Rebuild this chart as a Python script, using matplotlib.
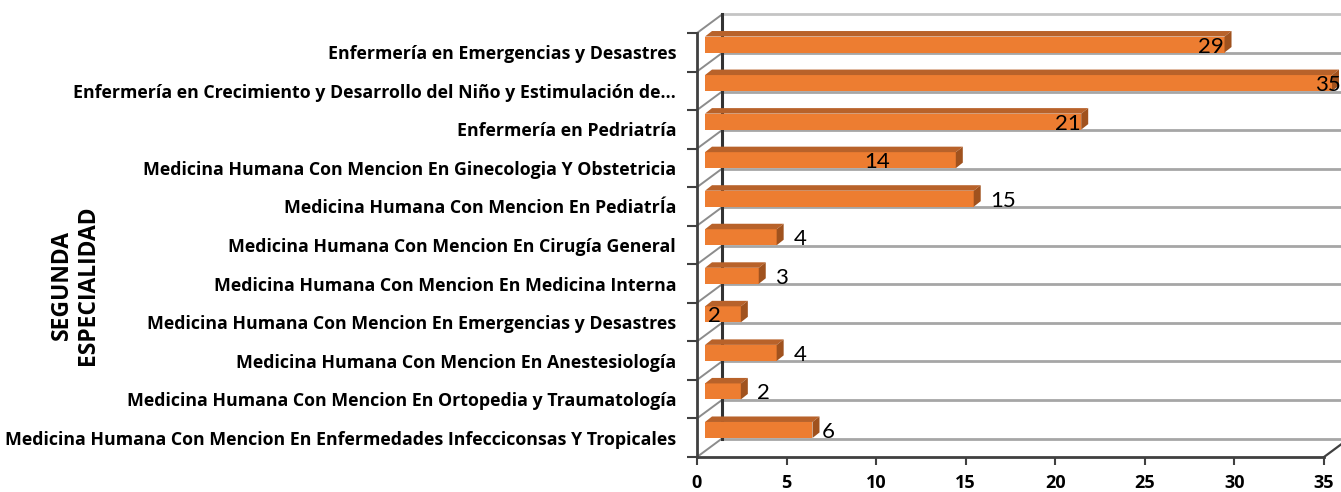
import matplotlib.pyplot as plt
import numpy as np

categories = [
    "Enfermería en Emergencias y Desastres",
    "Enfermería en Crecimiento y Desarrollo del Niño y Estimulación de…",
    "Enfermería en Pedriatría",
    "Medicina Humana Con Mencion En Ginecologia Y Obstetricia",
    "Medicina Humana Con Mencion En PediatrÍa",
    "Medicina Humana Con Mencion En Cirugía General",
    "Medicina Humana Con Mencion En Medicina Interna",
    "Medicina Humana Con Mencion En Emergencias y Desastres",
    "Medicina Humana Con Mencion En Anestesiología",
    "Medicina Humana Con Mencion En Ortopedia y Traumatología",
    "Medicina Humana Con Mencion En Enfermedades Infecciconsas Y Tropicales",
]
values = [29, 35, 21, 14, 15, 4, 3, 2, 4, 2, 6]
x_ticks = [0, 5, 10, 15, 20, 25, 30, 35]
axis_title = "SEGUNDA\nESPECIALIDAD"

# where Excel dropped each data label (x, in axis units)
label_x = [28.7, 35.2, 20.7, 10.05, 17.1, 5.75, 4.7, 0.95, 5.75, 3.7, 7.3]

plt.rcParams['font.family'] = ['Open Sans', 'DejaVu Sans']

W, H = 1341, 492
fig = plt.figure(figsize=(W / 100, H / 100), dpi=100)
ax = fig.add_axes([697 / W, 35 / H, 627 / W, 424 / H])

n = len(categories)
y = np.arange(n)
edges = np.arange(n + 1) - 0.5
xmax = x_ticks[-1]
ax.set_xlim(0, xmax)
ax.set_ylim(n - 0.5, -0.5)

# pixel -> data unit helpers (y axis is inverted, so "up" is negative)
sx = ax.bbox.width / xmax
sy = ax.bbox.height / n
def off(px, py):
    return px / sx, -py / sy

# fake 3D: back wall, side wall diagonals
bx, by = off(25, 18.5)
for i, e in enumerate(edges):
    c = '#c4c4c4' if i == 0 else '#a6a6a6'
    ax.plot([bx, xmax + bx], [e + by, e + by], color=c, lw=2, clip_on=False, zorder=1)
    ax.plot([0, bx], [e, e + by], color='#8c8c8c', lw=1.4, clip_on=False, zorder=1)
ax.plot([bx, bx], [edges[0] + by, edges[-1] + by], color='#333333', lw=2.2, clip_on=False, zorder=1)
ax.plot([xmax, xmax + bx], [edges[-1], edges[-1] + by], color='#404040', lw=1.6, clip_on=False, zorder=1)

# bars: front face + top + side
h = 16 / sy
fx, fy = off(8, 7.75)
dx, dy = off(7, 5.5)
ax.barh(y + fy, values, left=fx, height=h, color='#ED7D31', clip_on=False, zorder=3)
for yi, v in zip(y, values):
    yt = yi + fy - h / 2
    yb = yi + fy + h / 2
    x0, x1 = fx, fx + v
    ax.fill([x0, x1, x1 + dx, x0 + dx], [yt, yt, yt + dy, yt + dy],
            color='#B8622A', clip_on=False, zorder=3, lw=0)
    ax.fill([x1, x1, x1 + dx, x1 + dx], [yt, yb, yb + dy, yt + dy],
            color='#A0521E', clip_on=False, zorder=3, lw=0)

_, ly = off(0, -2)
for yi, v, lx in zip(y, values, label_x):
    ax.text(lx, yi + fy + ly, str(v), ha='center', va='center', fontsize=16,
            family=['Lato', 'DejaVu Sans'], color='black', zorder=5, clip_on=False)

for s in ['top', 'right']:
    ax.spines[s].set_visible(False)
for s in ['left', 'bottom']:
    ax.spines[s].set_color('#404040')
    ax.spines[s].set_linewidth(2)
    ax.spines[s].set_zorder(2)

ax.set_xticks(x_ticks)
ax.set_xticklabels([str(t) for t in x_ticks], fontweight='bold', fontsize=13)
ax.tick_params(axis='x', length=6, width=1.5, color='#404040', pad=6)

ax.set_yticks(y)
ax.set_yticklabels(categories, fontweight='bold', fontsize=12.75)
ax.set_yticks(edges, minor=True)
ax.tick_params(axis='y', which='major', length=0, pad=15)
ax.tick_params(axis='y', which='minor', length=7, width=1.5, color='#404040')

fig.text(75 / W, 1 - 285 / H, axis_title, rotation=90, ha='center', va='center',
         fontweight='bold', fontsize=16.5, linespacing=1.15, multialignment='center')

fig.savefig('out.png', dpi=100)
